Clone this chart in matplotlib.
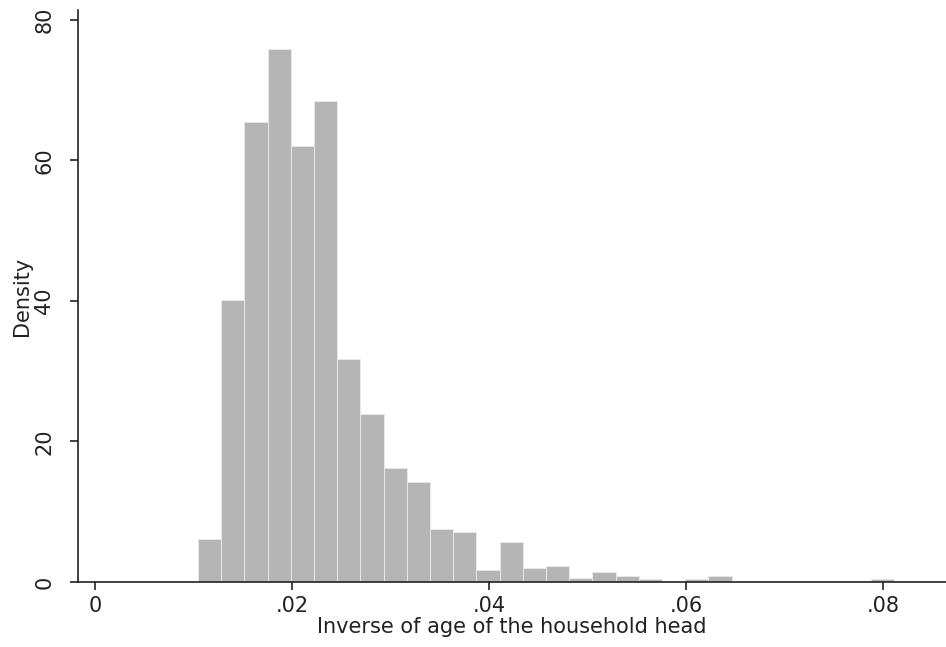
import numpy as np
import matplotlib
matplotlib.use("Agg")
import matplotlib.pyplot as plt

# histogram of 1/age of household head (density)
bin_start = 0.01046
bin_width = 0.002355
density = [6.1, 40.1, 65.5, 75.8, 62.0, 68.4, 31.8, 23.9, 16.2, 14.3,
           7.5, 7.1, 1.7, 5.7, 2.0, 2.3, 0.5, 1.4, 0.9, 0.45,
           0.0, 0.4, 0.8, 0.0, 0.12, 0.0, 0.1, 0.0, 0.1, 0.45,
           0.0, 0.1]

xticks = [0, 0.02, 0.04, 0.06, 0.08]
xticklabels = ["0", ".02", ".04", ".06", ".08"]
yticks = [0, 20, 40, 60, 80]

plt.rcParams['font.family'] = ['DejaVu Sans']

fig = plt.figure(figsize=(9.46, 6.47), dpi=100)
ax = fig.add_axes([78 / 946, 1 - 582 / 647, 1 - 78 / 946, 572 / 647])

lefts = bin_start + bin_width * np.arange(len(density))
ax.bar(lefts, density, width=bin_width, align='edge',
       color='#b5b5b5', edgecolor='#e8e8e8', linewidth=0.7)

ax.set_xlim(-0.00173, 0.0864)
ax.set_ylim(0, 81.4)
ax.spines['top'].set_visible(False)
ax.spines['right'].set_visible(False)
for s in ('left', 'bottom'):
    ax.spines[s].set_linewidth(1.2)
    ax.spines[s].set_color('#222222')

ax.set_xticks(xticks)
ax.set_xticklabels(xticklabels)
ax.set_yticks(yticks)
ax.set_yticklabels([str(v) for v in yticks], rotation=90, va='center')
ax.tick_params(axis='both', length=6, width=1.2, color='#222222',
               labelsize=15, labelcolor='#222222')
ax.tick_params(axis='x', pad=4)
ax.tick_params(axis='y', pad=11)

ax.set_xlabel("Inverse of age of the household head", fontsize=15,
              color='#222222', labelpad=1)
ax.set_ylabel("Density", fontsize=15, color='#222222', labelpad=2)

plt.savefig("out.png", dpi=100)
